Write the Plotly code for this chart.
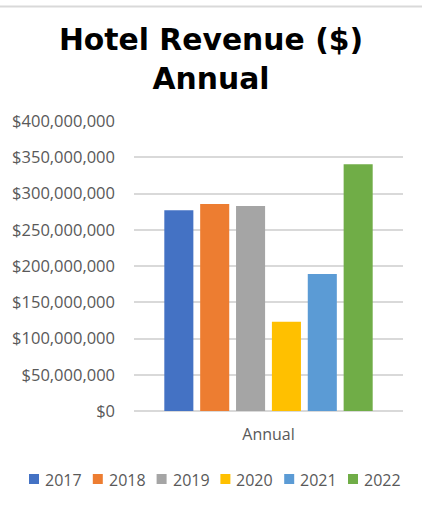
import plotly.graph_objects as go

years = ["2017", "2018", "2019", "2020", "2021", "2022"]
revenue = [277_000_000, 285_500_000, 282_700_000, 123_000_000, 189_000_000, 340_500_000]
colors = ["#4472C4", "#ED7D31", "#A5A5A5", "#FFC000", "#5B9BD5", "#70AD47"]
category = ["Annual"]
y_ticks = [0, 50_000_000, 100_000_000, 150_000_000, 200_000_000, 250_000_000,
           300_000_000, 350_000_000, 400_000_000]
y_tick_labels = ["$" + format(v, ",") for v in y_ticks]

W, H = 422, 506
ML, MR, MT, MB = 134, 19, 121, 95
PW, PH = W - ML - MR, H - MT - MB

def px_x(p):
    return (p - ML) / PW

def px_y(p):
    return (H - MB - p) / PH

fig = go.Figure()
for yr, val, col in zip(years, revenue, colors):
    fig.add_trace(go.Bar(x=category, y=[val], name=yr, marker_color=col,
                         marker_line_width=0, showlegend=False))

grey = "#595959"
font = "Open Sans"

# custom legend (Excel style)
shapes = []
annotations = []
for i, (yr, col) in enumerate(zip(years, colors)):
    left = 29 + i * 63.8
    shapes.append(dict(type="rect", xref="paper", yref="paper",
                       x0=px_x(left), x1=px_x(left + 10),
                       y0=px_y(484), y1=px_y(474),
                       fillcolor=col, line_width=0))
    annotations.append(dict(text=yr, xref="paper", yref="paper",
                            x=px_x(left + 14), y=px_y(479.5),
                            xanchor="left", yanchor="middle", showarrow=False,
                            font=dict(family=font, size=16, color=grey)))

# top border line of chart area
shapes.append(dict(type="line", xref="paper", yref="paper",
                   x0=px_x(0), x1=px_x(W), y0=px_y(6.5), y1=px_y(6.5),
                   line=dict(color="#D9D9D9", width=2)))

fig.update_layout(
    width=W, height=H,
    margin=dict(l=ML, r=MR, t=MT, b=MB, autoexpand=False),
    paper_bgcolor="white", plot_bgcolor="white",
    barmode="group", bargap=0.2, bargroupgap=0.19,
    title=dict(text="Hotel Revenue ($)<br>Annual", x=0.5, xanchor="center",
               xref="container", yref="container", y=1 - 50 / H, yanchor="top",
               font=dict(family="DejaVu Sans", size=29.8, color="black",
                         weight="bold")),
    xaxis=dict(showgrid=False, showline=False, zeroline=False,
               tickfont=dict(family=font, size=16, color=grey),
               ticklabelstandoff=12, ticks=""),
    yaxis=dict(range=[0, 400_000_000], tickmode="array", tickvals=y_ticks,
               ticktext=y_tick_labels, showgrid=True, gridcolor="#D9D9D9",
               gridwidth=1.5, zeroline=True, zerolinecolor="#D9D9D9",
               zerolinewidth=1.5, showline=False, ticks="",
               ticklabelstandoff=18,
               tickfont=dict(family=font, size=16.5, color=grey)),
    shapes=shapes, annotations=annotations,
)

fig.write_html("out.html", config={"displayModeBar": False},
               post_script="document.body.style.margin='0';")
